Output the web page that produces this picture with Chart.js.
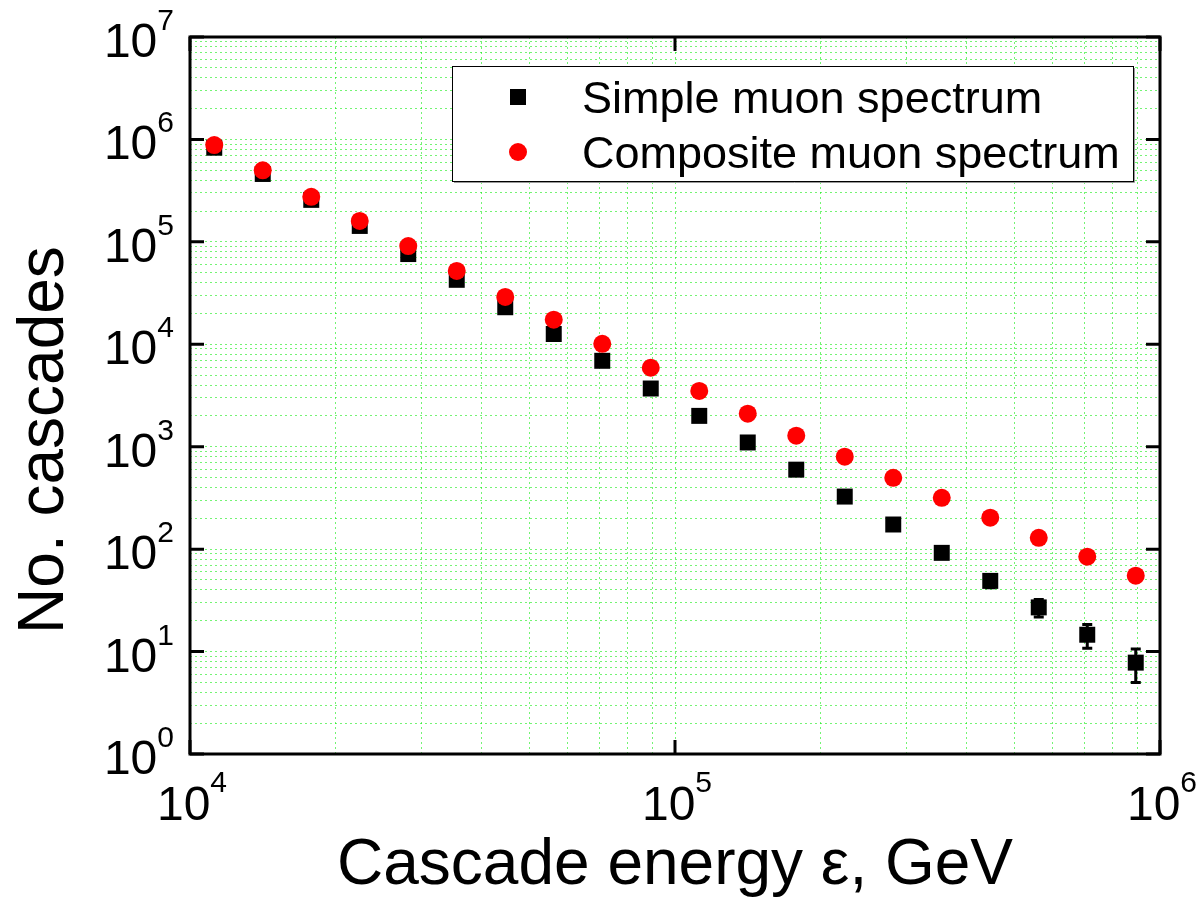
<!DOCTYPE html>
<html>
<head>
<meta charset="utf-8">
<script src="https://cdn.jsdelivr.net/npm/chart.js@4.4.0/dist/chart.umd.min.js"></script>
<style>
  html, body { margin: 0; padding: 0; background: #fff; }
  canvas { display: block; }
</style>
</head>
<body>
<canvas id="chart" width="1202" height="900"></canvas>
<script>
// Cascade energy bins, GeV
const energies = [11220, 14125, 17783, 22387, 28184, 35481, 44668, 56234, 70795, 89125,
                  112202, 141254, 177828, 223872, 281838, 354813, 446684, 562341, 707946, 891251];

// Simple muon spectrum (black squares) with error bars
const simpleCounts = [830000, 460000, 257000, 143000, 76000, 42600, 23000, 12600, 6900, 3700,
                      2000, 1100, 597, 326, 174, 92, 49, 27, 14.6, 7.8];
const simpleErrors = [910, 680, 510, 380, 275, 206, 152, 112, 83, 61,
                      45, 33, 24, 18, 13, 9.6, 7, 5.2, 3.8, 2.8];

// Composite muon spectrum (red circles)
const compositeCounts = [880000, 500000, 275000, 160000, 91000, 52000, 29000, 17400, 10100, 5900,
                         3500, 2100, 1280, 800, 497, 317, 203, 129, 84.5, 55];

// Axis decades and the exponents shown in the tick labels
const xMajorTicks = [1e4, 1e5, 1e6];
const xTickExponents = ['4', '5', '6'];
const yMajorTicks = [1, 10, 100, 1e3, 1e4, 1e5, 1e6, 1e7];
const yTickExponents = ['0', '1', '2', '3', '4', '5', '6', '7'];

const seriesLabels = ['Simple muon spectrum', 'Composite muon spectrum'];
const xTitle = 'Cascade energy \u03b5, GeV';
const yTitle = 'No. cascades';

const FONT = '"Liberation Sans", Arial, Helvetica, sans-serif';

// grid at 1..9 x each decade
function gridValues(majors) {
    const vals = [];
    majors.forEach((m, i) => {
        vals.push(m);
        if (i < majors.length - 1) {
            for (let k = 2; k <= 9; k++) vals.push(m * k);
        }
    });
    return vals;
}

const xGrid = gridValues(xMajorTicks);
const yGrid = gridValues(yMajorTicks);

const decorations = {
    id: 'decorations',
    beforeDatasetsDraw(chart) {
        // error bars for the simple spectrum, drawn under the markers
        const { ctx, scales: { x, y } } = chart;
        ctx.save();
        ctx.strokeStyle = '#000';
        ctx.lineWidth = 3;
        energies.forEach((e, i) => {
            const px = x.getPixelForValue(e);
            const top = y.getPixelForValue(simpleCounts[i] + simpleErrors[i]);
            const bot = y.getPixelForValue(simpleCounts[i] - simpleErrors[i]);
            ctx.beginPath();
            ctx.moveTo(px, top);
            ctx.lineTo(px, bot);
            ctx.moveTo(px - 5, top);
            ctx.lineTo(px + 5, top);
            ctx.moveTo(px - 5, bot);
            ctx.lineTo(px + 5, bot);
            ctx.stroke();
        });
        ctx.restore();
    },
    afterDraw(chart) {
        const { ctx, chartArea: a, scales: { x, y } } = chart;
        ctx.save();
        ctx.strokeStyle = '#000';
        ctx.fillStyle = '#000';

        // inner major ticks on all four sides
        ctx.lineWidth = 3;
        ctx.beginPath();
        yMajorTicks.forEach(v => {
            const py = y.getPixelForValue(v);
            ctx.moveTo(a.left, py); ctx.lineTo(a.left + 14, py);
            ctx.moveTo(a.right, py); ctx.lineTo(a.right - 14, py);
        });
        xMajorTicks.forEach(v => {
            const px = x.getPixelForValue(v);
            ctx.moveTo(px, a.bottom); ctx.lineTo(px, a.bottom - 14);
            ctx.moveTo(px, a.top); ctx.lineTo(px, a.top + 14);
        });
        ctx.stroke();

        // frame
        ctx.strokeRect(a.left, a.top, a.right - a.left, a.bottom - a.top);

        // y tick labels: 10 with exponent
        ctx.textAlign = 'right';
        ctx.textBaseline = 'alphabetic';
        yMajorTicks.forEach((v, i) => {
            const py = y.getPixelForValue(v);
            ctx.font = '30px ' + FONT;
            const ws = ctx.measureText(yTickExponents[i]).width;
            ctx.fillText(yTickExponents[i], 174, py - 7);
            ctx.font = '48px ' + FONT;
            ctx.fillText('10', 174 - ws, py + 20);
        });

        // x tick labels
        ctx.textAlign = 'left';
        xMajorTicks.forEach((v, i) => {
            const px = x.getPixelForValue(v);
            ctx.font = '48px ' + FONT;
            const w10 = ctx.measureText('10').width;
            ctx.font = '30px ' + FONT;
            const ws = ctx.measureText(xTickExponents[i]).width;
            const start = px - (w10 + ws) / 2 + 2;
            ctx.font = '48px ' + FONT;
            ctx.fillText('10', start, 820);
            ctx.font = '30px ' + FONT;
            ctx.fillText(xTickExponents[i], start + w10, 792);
        });

        // axis titles
        ctx.font = '64px ' + FONT;
        ctx.textAlign = 'center';
        ctx.fillText(xTitle, (a.left + a.right) / 2, 884);
        ctx.save();
        ctx.translate(63, 440);
        ctx.rotate(-Math.PI / 2);
        ctx.fillText(yTitle, 0, 0);
        ctx.restore();

        // legend box
        const lx = 452, ly = 66, lw = 681, lh = 115;
        ctx.fillStyle = '#fff';
        ctx.fillRect(lx, ly, lw, lh);
        ctx.strokeStyle = '#999';
        ctx.lineWidth = 1;
        ctx.beginPath();
        ctx.moveTo(lx + 2, ly + lh + 1.5); ctx.lineTo(lx + lw + 1.5, ly + lh + 1.5);
        ctx.lineTo(lx + lw + 1.5, ly + 2);
        ctx.stroke();
        ctx.strokeStyle = '#000';
        ctx.strokeRect(lx + 0.5, ly + 0.5, lw, lh);

        ctx.fillStyle = '#000';
        ctx.fillRect(518 - 8, 97 - 8, 16, 16);
        ctx.fillStyle = '#ff0000';
        ctx.beginPath();
        ctx.arc(518, 152, 9, 0, Math.PI * 2);
        ctx.fill();

        ctx.fillStyle = '#000';
        ctx.font = '45px ' + FONT;
        ctx.textAlign = 'left';
        ctx.fillText(seriesLabels[0], 582, 113);
        ctx.fillText(seriesLabels[1], 582, 168);

        ctx.restore();
    }
};

const gridColor = 'rgba(0, 235, 0, 0.55)';

new Chart(document.getElementById('chart'), {
    type: 'scatter',
    data: {
        datasets: [
            {
                label: seriesLabels[0],
                data: energies.map((e, i) => ({ x: e, y: simpleCounts[i] })),
                pointStyle: 'rect',
                pointRadius: 11.3,
                pointHoverRadius: 11.3,
                backgroundColor: '#000',
                borderColor: '#000',
                borderWidth: 0,
                order: 2
            },
            {
                label: seriesLabels[1],
                data: energies.map((e, i) => ({ x: e, y: compositeCounts[i] })),
                pointStyle: 'circle',
                pointRadius: 9,
                pointHoverRadius: 9,
                backgroundColor: '#ff0000',
                borderColor: '#ff0000',
                borderWidth: 0,
                order: 1
            }
        ]
    },
    options: {
        responsive: false,
        animation: false,
        events: [],
        layout: { padding: { left: 190, right: 42, top: 37, bottom: 146 } },
        plugins: {
            legend: { display: false },
            tooltip: { enabled: false }
        },
        scales: {
            x: {
                type: 'logarithmic',
                min: 1e4,
                max: 1e6,
                afterBuildTicks: scale => { scale.ticks = xGrid.map(v => ({ value: v })); },
                ticks: { display: false },
                grid: { color: gridColor, lineWidth: 1, drawTicks: false },
                border: { display: false, dash: [2, 3] }
            },
            y: {
                type: 'logarithmic',
                min: 1,
                max: 1e7,
                afterBuildTicks: scale => { scale.ticks = yGrid.map(v => ({ value: v })); },
                ticks: { display: false },
                grid: { color: gridColor, lineWidth: 1, drawTicks: false },
                border: { display: false, dash: [2, 3] }
            }
        }
    },
    plugins: [decorations]
});
</script>
</body>
</html>
